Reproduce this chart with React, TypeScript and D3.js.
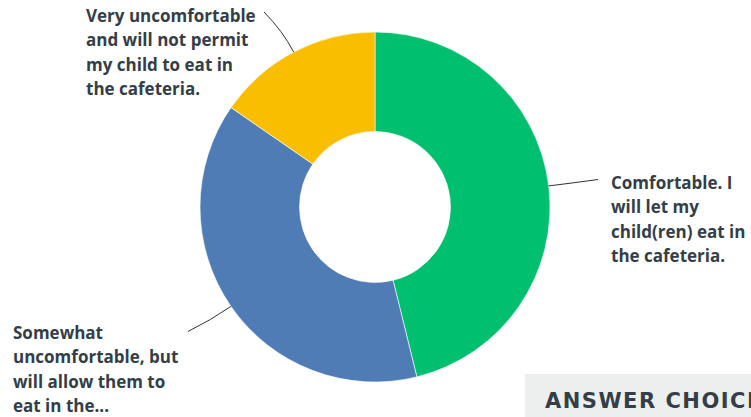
import React from "react";
import * as d3 from "d3";

const categories = [
  "Comfortable. I will let my child(ren) eat in the cafeteria.",
  "Somewhat uncomfortable, but will allow them to eat in the...",
  "Very uncomfortable and will not permit my child to eat in the cafeteria.",
];
const values = [46.15, 38.46, 15.38];
const labelLines = [
  ["Comfortable. I", "will let my", "child(ren) eat in", "the cafeteria."],
  ["Somewhat", "uncomfortable, but", "will allow them to", "eat in the..."],
  ["Very uncomfortable", "and will not permit", "my child to eat in", "the cafeteria."],
];
const colors = ["#00bf6f", "#507cb6", "#f9be00"];

// layout (not data): connector end points and text anchors
const connectorEnds = [
  [598, 179.5],
  [188, 331.5],
  [264, 12],
];
const textAnchors = [
  [611, 189],
  [13, 339],
  [86, 22],
];

const W = 751;
const H = 417;
const cx = 375;
const cy = 207;
const R = 175;
const r0 = 75.5;
const lineH = 24.4;

export default function App() {
  const pie = d3
    .pie<number>()
    .sort(null)
    .value((d) => d)
    .startAngle(0)
    .endAngle(2 * Math.PI);
  const arcs = pie(values);
  const arc = d3.arc<d3.PieArcDatum<number>>().innerRadius(r0).outerRadius(R);

  return (
    <svg
      width={W}
      height={H}
      style={{ position: "absolute", left: 0, top: 0, display: "block" }}
    >
      <rect x={0} y={0} width={W} height={H} fill="#ffffff" />
      <g transform={`translate(${cx},${cy})`}>
        {arcs.map((a, i) => (
          <path
            key={i}
            d={arc(a) || ""}
            fill={colors[i]}
            stroke="#ffffff"
            strokeWidth={0.6}
          />
        ))}
      </g>
      {arcs.map((a, i) => {
        const mid = (a.startAngle + a.endAngle) / 2;
        const sx = cx + R * Math.sin(mid);
        const sy = cy - R * Math.cos(mid);
        const c = R + 24;
        const qx = cx + c * Math.sin(mid);
        const qy = cy - c * Math.cos(mid);
        const [ex, ey] = connectorEnds[i];
        const p = d3.path();
        p.moveTo(sx, sy);
        p.quadraticCurveTo(qx, qy, ex, ey);
        return (
          <path
            key={"c" + i}
            d={p.toString()}
            fill="none"
            stroke="#333333"
            strokeWidth={1}
          />
        );
      })}
      {labelLines.map((lines, i) => (
        <text
          key={"t" + i}
          x={textAnchors[i][0]}
          y={textAnchors[i][1]}
          fontFamily="'Open Sans', sans-serif"
          fontWeight={700}
          fontSize={17}
          fill="#333e48"
        >
          {lines.map((l, j) => (
            <tspan key={j} x={textAnchors[i][0]} y={textAnchors[i][1] + j * lineH}>
              {l}
            </tspan>
          ))}
        </text>
      ))}
      <rect x={525} y={374} width={W - 525} height={H - 374} fill="#edeeee" />
      <text
        x={545}
        y={408}
        fontFamily="'DejaVu Sans', sans-serif"
        fontWeight={700}
        fontSize={21}
        letterSpacing={1.5}
        fill="#333e48"
      >
        ANSWER CHOICES
      </text>
    </svg>
  );
}
